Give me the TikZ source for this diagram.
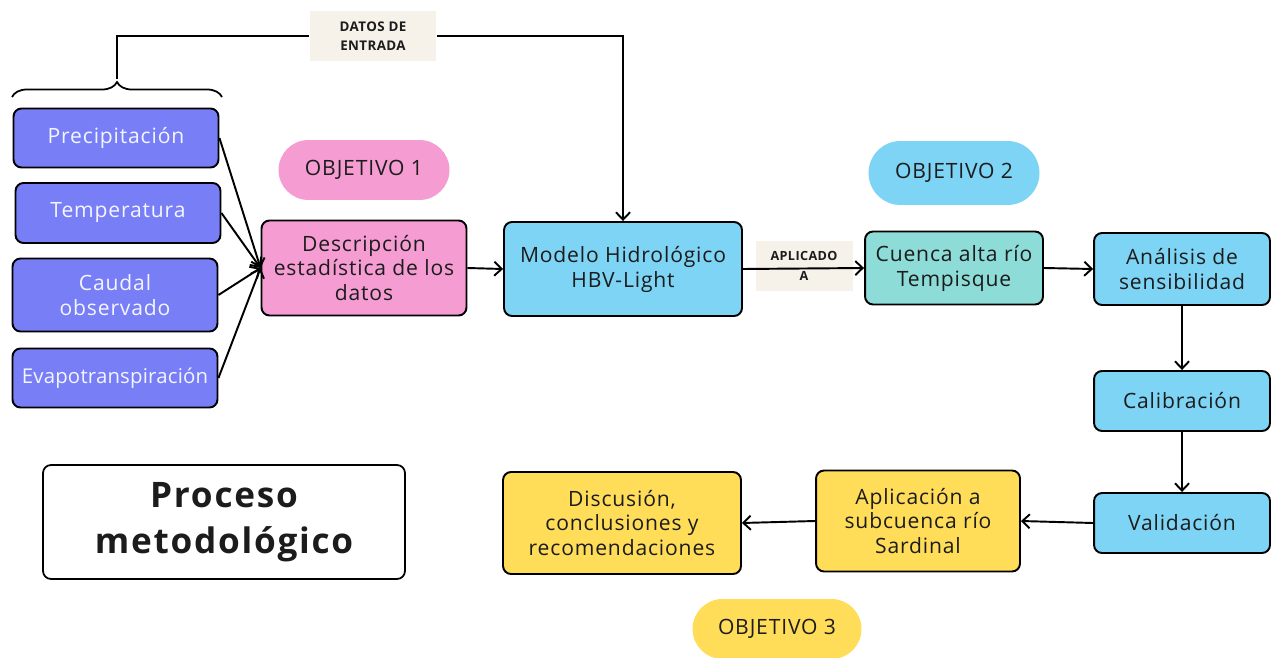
\documentclass[tikz,border=0pt]{standalone}
\usepackage{fontspec}
\setmainfont{Open Sans}
\usetikzlibrary{shapes,arrows,arrows.meta,positioning,calc,decorations.pathreplacing}

\definecolor{entrada}{HTML}{787EF6}
\definecolor{rosa}{HTML}{F59CD3}
\definecolor{celeste}{HTML}{7DD4F5}
\definecolor{turquesa}{HTML}{8DDCD8}
\definecolor{amarillo}{HTML}{FFDD59}
\definecolor{beige}{HTML}{F6F2EA}
\definecolor{texto}{HTML}{1C1C1C}

\newcommand{\letranormal}{\addfontfeatures{LetterSpace=4}\fontsize{12}{14.2}\selectfont}

\begin{document}
\begin{tikzpicture}[x=0.02cm, y=-0.02cm, >={Straight Barb[length=4.2pt, width=8pt]}]
  \tikzstyle{caja}=[draw=black, rounded corners=0.16cm, line width=1.1pt, align=center, text=texto, font=\letranormal, inner sep=2pt]
  \tikzstyle{dato}=[caja, fill=entrada, text=white!92!entrada, minimum width=4.1cm, inner xsep=0pt]
  \tikzstyle{objetivo}=[rounded corners=0.6cm, minimum height=1.2cm, minimum width=3.42cm, text=texto, font=\letranormal]
  \tikzstyle{etiqueta}=[fill=beige, text=texto, font=\bfseries\addfontfeatures{LetterSpace=3}\fontsize{7.6}{10.6}\selectfont, align=center, inner sep=0pt]
  \tikzstyle{flecha}=[->, line width=1.1pt]

  \useasboundingbox (0,0) rectangle (1273,658);

  % Datos de entrada
  \node[dato, minimum height=1.18cm] (prec) at (116,138) {Precipitación};
  \node[dato, minimum height=1.2cm] (temp) at (118,213) {Temperatura};
  \node[dato, minimum height=1.46cm] (caudal) at (115,295) {Caudal\\observado};
  \node[dato, minimum height=1.18cm, font=\addfontfeatures{LetterSpace=1}\fontsize{11.6}{14.2}\selectfont] (evapo) at (115,378) {Evapotranspiración};

  % Llave sobre los datos
  \draw[decorate, decoration={brace, amplitude=0.3cm}, line width=1pt] (12,97) -- (222,97);
  \coordinate (llave) at (117,79);

  % Objetivos
  \node[objetivo, fill=rosa] (obj1) at (364,170) {OBJETIVO 1};
  \node[objetivo, fill=celeste, minimum height=1.28cm, rounded corners=0.64cm] (obj2) at (954,173) {OBJETIVO 2};
  \node[objetivo, fill=amarillo, minimum width=3.38cm] (obj3) at (777,629) {OBJETIVO 3};

  % Proceso principal
  \node[caja, fill=rosa, minimum width=4.1cm, minimum height=1.9cm] (desc) at (364,268) {Descripción\\estadística de los\\datos};
  \node[caja, fill=celeste, minimum width=4.76cm, minimum height=1.88cm] (modelo) at (623,269) {Modelo Hidrológico\\HBV-Light};
  \node[caja, fill=turquesa, minimum width=3.56cm, minimum height=1.46cm] (cuenca) at (954,268) {Cuenca alta río\\Tempisque};
  \node[caja, fill=celeste, minimum width=3.52cm, minimum height=1.44cm] (sens) at (1182,269) {Análisis de\\sensibilidad};
  \node[caja, fill=celeste, minimum width=3.52cm, minimum height=1.2cm] (calib) at (1182,401) {Calibración};
  \node[caja, fill=celeste, minimum width=3.52cm, minimum height=1.2cm] (valid) at (1182,523) {Validación};
  \node[caja, fill=amarillo, minimum width=4.08cm, minimum height=2.02cm] (sardinal) at (918,521) {Aplicación a\\subcuenca río\\Sardinal};
  \node[caja, fill=amarillo, minimum width=4.76cm, minimum height=2.04cm] (discusion) at (622,523) {Discusión,\\conclusiones y\\recomendaciones};

  % Titulo
  \node[caja, fill=white, minimum width=7.24cm, minimum height=2.28cm, line width=1pt, font=\bfseries\addfontfeatures{LetterSpace=5}\fontsize{20}{26.5}\selectfont] (titulo) at (224,522) {Proceso\\metodológico};

  % Etiquetas
  \node[etiqueta, minimum width=2.54cm, minimum height=1cm] (datos) at (373,36) {DATOS DE\\ENTRADA};
  \node[etiqueta, minimum width=1.94cm, minimum height=1cm, font=\bfseries\addfontfeatures{LetterSpace=3}\fontsize{7.2}{11.2}\selectfont] (aplicado) at (804,266) {APLICADO\\A};

  % Conectores
  \draw[flecha] (prec.east) -- (desc.west);
  \draw[flecha] (temp.east) -- (desc.west);
  \draw[flecha] (caudal.east) -- (desc.west);
  \draw[flecha] (evapo.east) -- (desc.west);
  \draw[line width=1.1pt] (llave) |- (datos.west);
  \draw[flecha] (datos.east) -| (modelo.north);
  \draw[flecha] (desc.east) -- (modelo.west);
  \draw[flecha] (modelo.east) -- (cuenca.west);
  \draw[flecha] (cuenca.east) -- (sens.west);
  \draw[flecha] (sens.south) -- (calib.north);
  \draw[flecha] (calib.south) -- (valid.north);
  \draw[flecha] (valid.west) -- (sardinal.east);
  \draw[flecha] (sardinal.west) -- (discusion.east);
\end{tikzpicture}
\end{document}
